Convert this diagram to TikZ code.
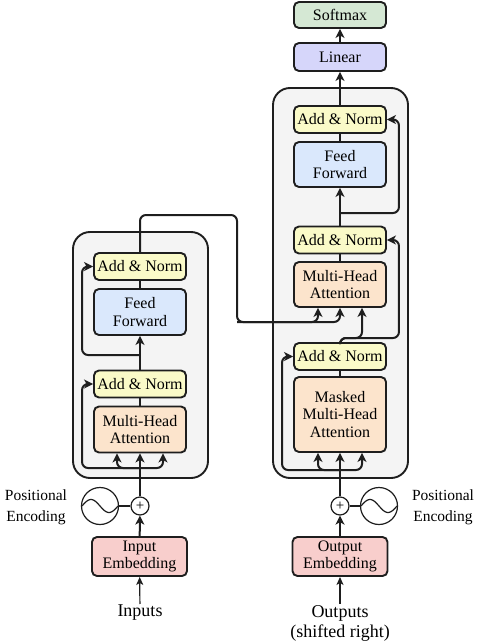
\documentclass[tikz,border=0pt]{standalone}
\usepackage{fontspec}
\setmainfont{Liberation Serif}
\usepackage{tikz}
\usetikzlibrary{arrows.meta}
\usepackage{xcolor}
\definecolor{anormfill}{HTML}{FAFAC8}
\definecolor{ffwdfill}{HTML}{DAE8FC}
\definecolor{attnfill}{HTML}{FCE4CC}
\definecolor{softfill}{HTML}{D5E8D4}
\definecolor{linfill}{HTML}{D6D6FA}
\definecolor{embfill}{HTML}{F8CECC}
\definecolor{stackfill}{HTML}{F4F4F4}
\definecolor{edge}{HTML}{1E1E1E}

\begin{document}
\begin{tikzpicture}[x=1pt, y=-1pt,
  blk/.style={draw=edge, line width=1.9pt, rounded corners=5pt, align=center, inner sep=0pt,
    minimum width=92pt, font=\fontsize{16}{17.5}\selectfont},
  anorm/.style={blk, fill=anormfill, minimum height=27pt},
  ffwd/.style={blk, fill=ffwdfill, minimum height=46pt},
  attn/.style={blk, fill=attnfill, minimum height=46pt},
  emb/.style={blk, fill=embfill, minimum width=95pt, minimum height=39pt},
  stackbox/.style={draw=edge, line width=1.9pt, rounded corners=17pt, fill=stackfill,
    minimum width=135pt, inner sep=0pt},
  plus/.style={circle, draw=edge, line width=1.2pt, fill=white, minimum size=18pt, inner sep=0pt,
    font=\fontsize{15}{15}\selectfont},
  wave/.style={circle, draw=edge, line width=1.2pt, fill=white, minimum size=37pt, inner sep=0pt},
  lbl/.style={align=center, font=\fontsize{15.5}{21}\selectfont},
  io/.style={align=center, inner sep=1pt, font=\fontsize{18}{20}\selectfont},
  arr/.style={-{Stealth[length=9pt, width=9pt, inset=2.5pt]}, draw=edge, line width=2pt},
  res/.style={arr, rounded corners=6pt},
  ln/.style={draw=edge, line width=2pt},
  thinarr/.style={-{Stealth[length=8pt, width=7pt, inset=2pt]}, draw=edge, line width=1.2pt}]

  \useasboundingbox (0,0) rectangle (481,642);

  \node[stackbox, minimum height=246pt] (enc) at (140.5,355) {};
  \node[stackbox, minimum height=390pt] (dec) at (340.5,283) {};

  \node[anorm] (encAN2) at (140,266.5) {Add \& Norm};
  \node[ffwd] (encFF) at (140,312) {Feed\\Forward};
  \node[anorm] (encAN1) at (140,384) {Add \& Norm};
  \node[attn] (encMHA) at (140,429.5) {Multi-Head\\Attention};
  \node[plus] (encplus) at (140,506) {+};
  \node[wave] (encwave) at (100,506) {};
  \node[emb] (inemb) at (139.5,556.5) {Input\\Embedding};
  \node[io] (inp) at (140,613) {Inputs};
  \node[lbl] (encpos) at (36,507) {Positional\\Encoding};

  \node[blk, fill=softfill, minimum height=26pt] (soft) at (340,15) {Softmax};
  \node[blk, fill=linfill, minimum height=28pt] (lin) at (340,57) {Linear};
  \node[anorm] (decAN3) at (340,119.5) {Add \& Norm};
  \node[ffwd, minimum height=45pt] (decFF) at (340,164.5) {Feed\\Forward};
  \node[anorm] (decAN2) at (340,240) {Add \& Norm};
  \node[attn, minimum height=45pt] (decMHA) at (340,284.5) {Multi-Head\\Attention};
  \node[anorm] (decAN1) at (340,356.5) {Add \& Norm};
  \node[attn, minimum height=75pt] (decMMHA) at (340,414.5) {Masked\\Multi-Head\\Attention};
  \node[plus] (decplus) at (340,506) {+};
  \node[wave] (decwave) at (379,506) {};
  \node[emb] (outemb) at (340,556.5) {Output\\Embedding};
  \node[io] (outp) at (340,623) {Outputs\\(shifted right)};
  \node[lbl] (decpos) at (443,507) {Positional\\Encoding};

  \draw[edge, line width=1.2pt, shift={(encwave.center)}] plot[domain=-18:18, samples=40, smooth] (\x, {6.5*sin(10*\x)});
  \draw[edge, line width=1.2pt, shift={(decwave.center)}] plot[domain=-18:18, samples=40, smooth] (\x, {6.5*sin(10*\x)});

  \coordinate (encsplit) at (140,468);
  \coordinate (encffsplit) at (140,355);
  \coordinate (encout) at (237,215);
  \coordinate (cross) at (237,322);
  \coordinate (decsplit) at (340,470);
  \coordinate (decmhasplit) at (340,338);
  \coordinate (decffsplit) at (340,213);

  \draw[thinarr] (inp) -- (inemb);
  \draw[arr] (inemb) -- (encplus);
  \draw[edge, line width=1.2pt] (encwave) -- (encplus);
  \draw[arr] (encplus) -- (encMHA);
  \draw[res] (encsplit) -| ([xshift=-23pt]encMHA.south);
  \draw[res] (encsplit) -| ([xshift=23pt]encMHA.south);
  \draw[res] (encsplit) -| ([xshift=-11pt]encAN1.west) -- (encAN1.west);
  \draw[ln] (encMHA) -- (encAN1);
  \draw[arr] (encAN1) -- (encFF);
  \draw[res] (encffsplit) -| ([xshift=-11pt]encAN2.west) -- (encAN2.west);
  \draw[ln] (encFF) -- (encAN2);
  \draw[res] (encAN2.north) |- (encout) -- (cross) -| ([xshift=-22pt]decMHA.south);
  \draw[res] (cross) -| (decMHA.south);

  \draw[thinarr] (outp) -- (outemb);
  \draw[arr] (outemb) -- (decplus);
  \draw[ln] (decwave) -- (decplus);
  \draw[arr] (decplus) -- (decMMHA);
  \draw[res] (decsplit) -| ([xshift=-22pt]decMMHA.south);
  \draw[res] (decsplit) -| ([xshift=22pt]decMMHA.south);
  \draw[res] (decsplit) -| ([xshift=-11pt]decAN1.west) -- (decAN1.west);
  \draw[ln] (decMMHA) -- (decAN1);
  \draw[res] (decAN1.north) -- (decmhasplit) -| ([xshift=22pt]decMHA.south);
  \draw[res] (decAN1.north) -- (decmhasplit) -| ([xshift=12pt]decAN2.east) -- (decAN2.east);
  \draw[ln] (decMHA) -- (decAN2);
  \draw[arr] (decAN2) -- (decFF);
  \draw[res] (decffsplit) -| ([xshift=12pt]decAN3.east) -- (decAN3.east);
  \draw[ln] (decFF) -- (decAN3);
  \draw[arr] (decAN3) -- (lin);
  \draw[arr] (lin) -- (soft);
\end{tikzpicture}
\end{document}
